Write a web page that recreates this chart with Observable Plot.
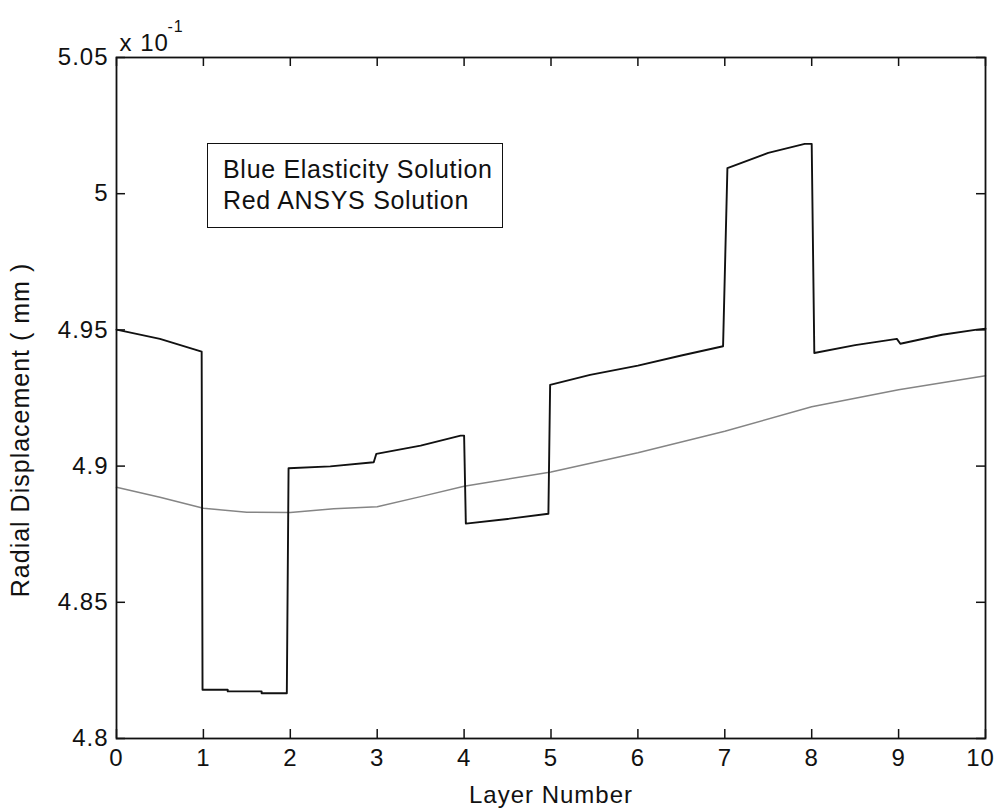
<!DOCTYPE html>
<html><head><meta charset="utf-8">
<script src="https://cdn.jsdelivr.net/npm/d3@7"></script>
<script src="https://cdn.jsdelivr.net/npm/@observablehq/plot@0.6"></script>
<style>
body{margin:0;background:#fff;}
#wrap{position:relative;width:995px;height:812px;font-family:"Liberation Sans",Arial,sans-serif;}
#legend{position:absolute;left:207px;top:143px;width:296px;height:85px;box-sizing:border-box;border:1.6px solid #111;background:#fff;font-size:25px;letter-spacing:0.7px;line-height:31px;padding:10px 0 0 15px;color:#111;}
svg text{letter-spacing:1px;}
</style>
</head><body>
<div id="wrap"><div id="legend"><div>Blue Elasticity Solution</div><div>Red ANSYS Solution</div></div></div>
<script>
// Layer numbers and radial displacement (x 10^-1 mm)
const elasticityLayer = [0, 0.5, 0.98, 0.99, 1.28, 1.28, 1.67, 1.67, 1.96, 1.98, 2.46, 2.96, 2.99, 3.5, 3.96, 4.0, 4.02, 4.5, 4.97, 4.99, 5.45, 6.0, 6.5, 6.98, 7.03, 7.5, 7.92, 8.0, 8.03, 8.5, 8.98, 9.02, 9.5, 9.9, 10];
const elasticityDisp  = [4.9501, 4.9467, 4.9420, 4.8179, 4.8179, 4.8173, 4.8173, 4.8166, 4.8166, 4.8992, 4.8999, 4.9014, 4.9045, 4.9075, 4.9112, 4.9112, 4.8789, 4.8806, 4.8825, 4.9298, 4.9335, 4.9369, 4.9406, 4.9440, 5.0094, 5.0150, 5.0183, 5.0183, 4.9415, 4.9444, 4.9467, 4.9449, 4.9482, 4.9501, 4.9504];
const ansysLayer = [0, 0.5, 1, 1.5, 2, 2.5, 3, 3.5, 4, 5, 6, 7, 8, 9, 10];
const ansysDisp  = [4.8922, 4.8886, 4.8845, 4.8831, 4.8830, 4.8843, 4.8851, 4.8888, 4.8926, 4.8978, 4.9049, 4.9128, 4.9218, 4.9280, 4.9332];
const xTicks = [0,1,2,3,4,5,6,7,8,9,10];
const yTicks = [4.8, 4.85, 4.9, 4.95, 5, 5.05];
const yTickLabels = ["4.8","4.85","4.9","4.95","5","5.05"];

const W = 995, H = 812, mL = 116, mR = 10, mT = 57, mB = 74;
const innerH = H - mT - mB, innerW = W - mL - mR, tk = 9;
const elastic = elasticityLayer.map((x, i) => ({x, y: elasticityDisp[i]}));
const ansys = ansysLayer.map((x, i) => ({x, y: ansysDisp[i]}));
const font = "Liberation Sans, Arial, sans-serif";
const xMain = xTicks.slice(0, -1), xLast = xTicks.slice(-1);

const chart = Plot.plot({
  width: W, height: H,
  marginLeft: mL, marginRight: mR, marginTop: mT, marginBottom: mB,
  style: {fontFamily: font, fontSize: "24px", color: "#111", background: "#fff", overflow: "visible"},
  x: {domain: [0, 10]},
  y: {domain: [4.8, 5.05]},
  marks: [
    Plot.line(ansys, {x: "x", y: "y", stroke: "#858585", strokeWidth: 1.5}),
    Plot.line(elastic, {x: "x", y: "y", stroke: "#111", strokeWidth: 1.9}),
    Plot.frame({stroke: "#111", strokeWidth: 1.8}),
    Plot.tickX(xTicks, {x: d => d, insetTop: innerH - tk, stroke: "#111", strokeWidth: 1.5}),
    Plot.tickX(xTicks, {x: d => d, insetBottom: innerH - tk, stroke: "#111", strokeWidth: 1.5}),
    Plot.tickY(yTicks, {y: d => d, insetRight: innerW - tk, stroke: "#111", strokeWidth: 1.5}),
    Plot.tickY(yTicks, {y: d => d, insetLeft: innerW - tk, stroke: "#111", strokeWidth: 1.5}),
    Plot.axisX(xMain, {tickSize: 0, tickPadding: 10, fontSize: 24, label: "Layer Number", labelAnchor: "center", labelOffset: 64, labelArrow: "none"}),
    Plot.axisX(xLast, {tickSize: 0, tickPadding: 10, fontSize: 24, dx: -5, label: null}),
    Plot.axisY(yTicks, {tickSize: 0, tickPadding: 8, fontSize: 24, tickFormat: (d, i) => yTickLabels[i], label: null}),
    Plot.text(["Radial Displacement ( mm )"], {frameAnchor: "left", dx: -96, dy: 32, rotate: -90, textAnchor: "middle", fontSize: 25, fill: "#111"}),
    Plot.text(["x 10"], {frameAnchor: "top-left", dx: 3, dy: -24, textAnchor: "start", fontSize: 24, fill: "#111"}),
    Plot.text(["-1"], {frameAnchor: "top-left", dx: 51, dy: -37, textAnchor: "start", fontSize: 16, fill: "#111"})
  ]
});
document.getElementById("wrap").prepend(chart);
</script>
</body></html>
